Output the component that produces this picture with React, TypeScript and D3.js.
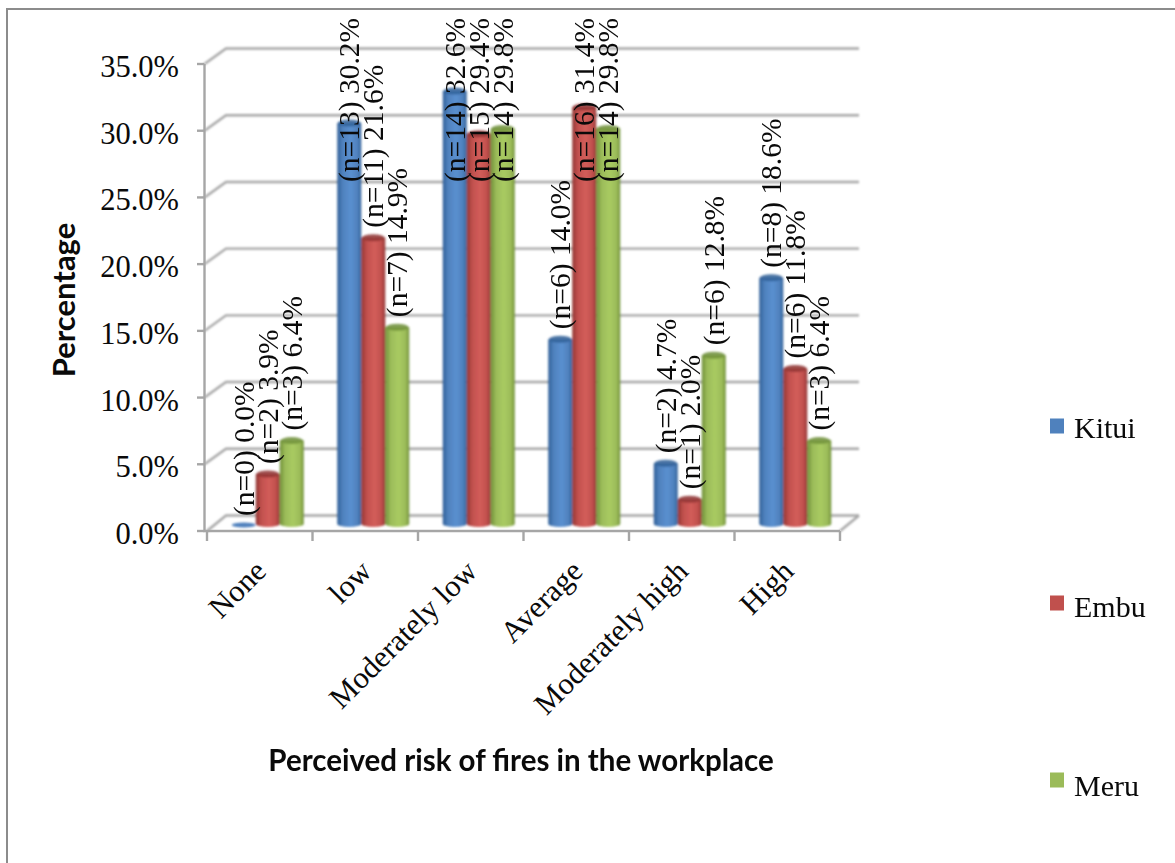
import React, { useMemo } from "react";
import * as d3 from "d3";

const categories = ["None", "low", "Moderately low", "Average", "Moderately high", "High"];
const seriesNames = ["Kitui", "Embu", "Meru"];
const kituiValues = [0.0, 30.2, 32.6, 14.0, 4.7, 18.6];
const embuValues = [3.9, 21.6, 29.4, 31.4, 2.0, 11.8];
const meruValues = [6.4, 14.9, 29.8, 29.8, 12.8, 6.4];
const kituiCounts = [0, 13, 14, 6, 2, 8];
const embuCounts = [2, 11, 15, 16, 1, 6];
const meruCounts = [3, 7, 14, 14, 6, 3];
const yTicks = [0, 5, 10, 15, 20, 25, 30, 35];
const seriesColors = ["#4f81bd", "#c0504d", "#9bbb59"];
const seriesShades = ["#2f5f97", "#8f3432", "#6f8f38"];
const seriesLights = ["#5a90d0", "#d35d5a", "#a9cb62"];

const W = 1175;
const H = 863;
const serif = "'Liberation Serif', 'Times New Roman', serif";
const GREY = "#a6a6a6";

export default function App() {
  const values = [kituiValues, embuValues, meruValues];
  const counts = [kituiCounts, embuCounts, meruCounts];

  const x = useMemo(() => d3.scaleBand().domain(categories).range([207, 840]), []);
  // Front edge of the chart floor and the raised back wall share one value scale.
  const yFront = useMemo(() => d3.scaleLinear().domain([0, 35]).range([531, 64]), []);
  const yBar = useMemo(() => d3.scaleLinear().domain([0, 35]).range([526, 59]), []);
  const axisX = 204.5;
  const depthX = 21.5;
  const depthY = 15.5;
  const barW = 24;
  const rx = barW / 2;
  const barFoot = yBar(0) - 2;

  const barX = (ci: number, si: number) =>
    (x(categories[ci]) as number) + x.bandwidth() / 2 + 8 + (si - 1.5) * barW;

  const legendSwatch = d3.scaleLinear().domain([0, 2]).range([426, 780]);
  const legendText = d3.scaleLinear().domain([0, 2]).range([438, 796]);

  return (
    <div style={{ position: "absolute", left: 0, top: 0, width: W, height: H, background: "#fff" }}>
      <svg width={W} height={H} style={{ display: "block" }}>
        <defs>
          {seriesNames.map((s, i) => (
            <linearGradient key={s} id={`cyl-${i}`} x1="0" x2="1" y1="0" y2="0">
              <stop offset="0" stopColor={seriesShades[i]} />
              <stop offset="0.22" stopColor={seriesColors[i]} />
              <stop offset="0.55" stopColor={seriesLights[i]} />
              <stop offset="0.85" stopColor={seriesColors[i]} />
              <stop offset="1" stopColor={seriesShades[i]} />
            </linearGradient>
          ))}
          <filter id="soft" x="-20%" y="-20%" width="140%" height="140%">
            <feGaussianBlur stdDeviation="0.8" />
          </filter>
        </defs>

        <rect x={0} y={0} width={W} height={H} fill="#fff" />
        <path d={`M7,${H} V9 H${W}`} fill="none" stroke="#8c8c8c" strokeWidth={2} />

        {/* Back wall gridlines with their slanted side-wall segments */}
        <g filter="url(#soft)" stroke={GREY} strokeWidth={2.4} fill="none">
          {yTicks.map((t) => (
            <path
              key={t}
              d={`M${t === 0 ? 207 : axisX},${yFront(t)} L${axisX + depthX},${yFront(t) - depthY} H859`}
            />
          ))}
          <path d={`M840,531 L859,${531 - depthY}`} />
        </g>

        {/* Front axes and tick marks */}
        <g stroke={GREY} strokeWidth={2.4} fill="none">
          <path d={`M${axisX},${yFront(35)} V${yFront(0)} H840`} />
          {yTicks.map((t) => (
            <line key={t} x1={197} x2={axisX} y1={yFront(t)} y2={yFront(t)} />
          ))}
          {d3.range(categories.length + 1).map((i) => (
            <line
              key={i}
              x1={207 + (i * 633) / categories.length}
              x2={207 + (i * 633) / categories.length}
              y1={531}
              y2={541}
            />
          ))}
        </g>

        {/* Cylindrical bars */}
        <g filter="url(#soft)">
          {categories.map((c, ci) =>
            seriesNames.map((s, si) => {
              const v = values[si][ci];
              const left = barX(ci, si);
              const top = yBar(v);
              if (v === 0) {
                return (
                  <ellipse
                    key={s + c}
                    cx={left + rx}
                    cy={top - 1}
                    rx={rx}
                    ry={2.5}
                    fill={seriesColors[si]}
                  />
                );
              }
              return (
                <g key={s + c}>
                  <path
                    d={`M${left},${top} V${barFoot} A${rx},3 0 0 0 ${left + barW},${barFoot} V${top} Z`}
                    fill={`url(#cyl-${si})`}
                  />
                  <ellipse cx={left + rx} cy={top} rx={rx - 0.5} ry={3.5} fill={seriesShades[si]} opacity={0.85} />
                </g>
              );
            })
          )}
        </g>

        {/* Value labels: rotated, sitting above each bar, pushed down to stay in the frame */}
        <g fontFamily={serif} fontSize={29.5} fill="#0a0a0a">
          {categories.map((c, ci) =>
            seriesNames.map((s, si) => {
              const v = values[si][ci];
              const start = Math.max(yBar(v) - 10, 182);
              const cx = barX(ci, si) + rx + 10;
              return (
                <text key={s + c} transform={`translate(${cx},${start}) rotate(-90)`}>
                  {`(n=${counts[si][ci]}) ${v.toFixed(1)}%`}
                </text>
              );
            })
          )}
        </g>

        {/* Value axis labels */}
        <g fontFamily={serif} fontSize={30.5} fill="#0a0a0a" textAnchor="end">
          {yTicks.map((t) => (
            <text key={t} x={179} y={yFront(t) + 13}>
              {`${t.toFixed(1)}%`}
            </text>
          ))}
        </g>

        {/* Category labels */}
        <g fontFamily={serif} fontSize={30.5} fill="#0a0a0a" textAnchor="end">
          {categories.map((c) => {
            const cx = (x(c) as number) + x.bandwidth() / 2;
            return (
              <text key={c} transform={`translate(${cx + 8},${573}) rotate(-45)`}>
                {c}
              </text>
            );
          })}
        </g>

        {/* Axis titles */}
        <text
          transform="translate(75,300) rotate(-90)"
          fontFamily="Lato, sans-serif"
          fontWeight={700}
          fontSize={31}
          textAnchor="middle"
          fill="#0a0a0a"
        >
          Percentage
        </text>
        <text
          x={521}
          y={771}
          fontFamily="Lato, sans-serif"
          fontWeight={700}
          fontSize={29.5}
          textAnchor="middle"
          fill="#0a0a0a"
        >
          Perceived risk of fires in the workplace
        </text>

        {/* Legend */}
        <g fontFamily={serif} fontSize={30} fill="#0a0a0a">
          {seriesNames.map((s, i) => (
            <g key={s}>
              <rect x={1050} y={legendSwatch(i) - 7.5} width={14} height={15} fill={seriesColors[i]} />
              <text x={1074} y={legendText(i)}>
                {s}
              </text>
            </g>
          ))}
        </g>
      </svg>
    </div>
  );
}
